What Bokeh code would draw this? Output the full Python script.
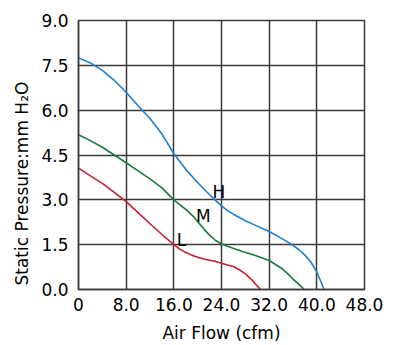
from bokeh.plotting import figure
from bokeh.models import Range1d, FixedTicker, Label, Title
from bokeh.embed import file_html
from bokeh.resources import INLINE

# ---- data ----
h_flow = [0, 2, 4, 6, 8, 10, 12, 14, 16, 17, 18, 19, 20, 21, 22, 23, 24, 25, 26, 28, 30, 32, 34, 35, 36, 37, 38, 39, 40, 40.5, 41.2]
h_pres = [7.75, 7.58, 7.33, 7.0, 6.6, 6.15, 5.72, 5.2, 4.55, 4.28, 4.02, 3.8, 3.58, 3.37, 3.17, 2.98, 2.8, 2.64, 2.52, 2.3, 2.12, 1.94, 1.72, 1.6, 1.48, 1.33, 1.15, 0.92, 0.58, 0.35, 0.0]

m_flow = [0, 2, 4, 6, 8, 10, 12, 14, 16, 18, 19.4, 21, 22, 23, 24, 25, 27.5, 29.7, 32, 34, 35, 36, 37, 37.9]
m_pres = [5.18, 4.98, 4.76, 4.5, 4.24, 3.97, 3.7, 3.4, 3.0, 2.68, 2.42, 2.03, 1.82, 1.64, 1.53, 1.45, 1.27, 1.14, 0.97, 0.72, 0.55, 0.35, 0.17, 0.0]

l_flow = [0, 2, 4, 6, 8, 10, 12, 14, 16, 17, 18, 19, 20, 21, 22, 23, 24, 25, 26, 27, 28, 29, 29.5, 30, 30.55]
l_pres = [4.06, 3.8, 3.55, 3.25, 2.94, 2.57, 2.2, 1.84, 1.5, 1.35, 1.24, 1.15, 1.08, 1.02, 0.98, 0.94, 0.88, 0.82, 0.77, 0.66, 0.52, 0.34, 0.23, 0.12, 0.0]

x_ticks = [0, 8, 16, 24, 32, 40, 48]
x_tick_labels = ["0", "8.0", "16.0", "24.0", "32.0", "40.0", "48.0"]
y_ticks = [0, 1.5, 3, 4.5, 6, 7.5, 9]
y_tick_labels = ["0.0", "1.5", "3.0", "4.5", "6.0", "7.5", "9.0"]

curve_names = ["H", "M", "L"]
name_x = [23.58, 20.95, 17.3]
name_y = [3.25, 2.47, 1.67]

FONT = "DejaVu Sans"
GRID = "#3a3a3a"

p = figure(width=400, height=345, output_backend="svg", toolbar_location=None,
           x_range=Range1d(0, 48), y_range=Range1d(0, 9),
           min_border_left=78, min_border_right=36, min_border_top=20, min_border_bottom=56)
p.background_fill_color = "white"
p.border_fill_color = "white"
p.outline_line_color = GRID
p.outline_line_width = 1.5

for ax, ticks, labels in ((p.xaxis[0], x_ticks, x_tick_labels), (p.yaxis[0], y_ticks, y_tick_labels)):
    ax.ticker = FixedTicker(ticks=ticks)
    ax.major_label_overrides = {t: s for t, s in zip(ticks, labels)}
    ax.major_tick_in = 0
    ax.major_tick_out = 0
    ax.minor_tick_line_color = None
    ax.axis_line_color = GRID
    ax.axis_line_width = 1.5
    ax.major_label_text_font = FONT
    ax.major_label_text_font_size = "17px"
    ax.major_label_text_color = "black"

p.xaxis.major_label_standoff = 8
p.yaxis.major_label_standoff = 10
p.xaxis.axis_label = "Air Flow (cfm)"
p.xaxis.axis_label_text_font = FONT
p.xaxis.axis_label_text_font_size = "17px"
p.xaxis.axis_label_text_font_style = "normal"
p.xaxis.axis_label_text_color = "black"
p.xaxis.axis_label_standoff = 9

p.xgrid.ticker = FixedTicker(ticks=x_ticks)
p.ygrid.ticker = FixedTicker(ticks=y_ticks)
p.grid.grid_line_color = GRID
p.grid.grid_line_width = 1.5

p.line(h_flow, h_pres, line_color="#1f7fcc", line_width=1.6)
p.line(m_flow, m_pres, line_color="#1c7a3c", line_width=1.6)
p.line(l_flow, l_pres, line_color="#c8202e", line_width=1.6)

for nm, nx, ny in zip(curve_names, name_x, name_y):
    p.add_layout(Label(x=nx, y=ny, text=nm, text_align="center", text_baseline="alphabetic",
                       text_font=FONT, text_font_size="17px", text_color="black"))

ytitle = Title(text="Static Pressure:mm H\u2082O", align="left", offset=4, standoff=14,
               text_font=FONT, text_font_size="17px", text_font_style="normal", text_color="black")
p.add_layout(ytitle, "left")

open("out.html", "w").write(file_html(p, INLINE))
